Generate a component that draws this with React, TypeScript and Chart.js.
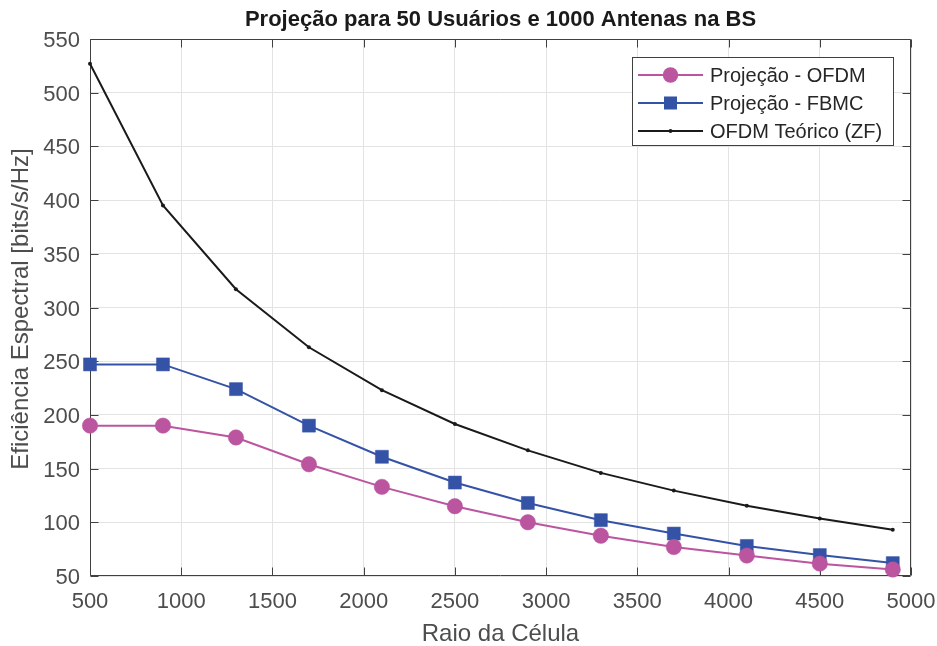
import React, { useEffect, useRef } from 'react';
import { Chart, registerables } from 'chart.js';

Chart.register(...registerables);

const raio = [500, 900, 1300, 1700, 2100, 2500, 2900, 3300, 3700, 4100, 4500, 4900];
const ofdm = [190, 190, 179, 154, 133, 115, 100, 87.5, 77, 69, 61.5, 56];
const fbmc = [247, 247, 224, 190, 161, 137, 118, 102, 89.5, 78, 69.5, 62];
const teorico = [527, 395, 317, 263, 223, 191.5, 167, 146, 129.5, 115.5, 103.5, 93];

const xTicks = [500, 1000, 1500, 2000, 2500, 3000, 3500, 4000, 4500, 5000];
const yTicks = [50, 100, 150, 200, 250, 300, 350, 400, 450, 500, 550];

const seriesLabels = ['Projeção - OFDM', 'Projeção - FBMC', 'OFDM Teórico (ZF)'];
const chartTitle = 'Projeção para 50 Usuários e 1000 Antenas na BS';
const xTitle = 'Raio da Célula';
const yTitle = 'Eficiência Espectral [bits/s/Hz]';

const PINK = '#bb55a0';
const BLUE = '#3452a6';
const BLACK = '#1a1a1a';
const FONT = '"Liberation Sans", Arial, Helvetica, sans-serif';

const decorPlugin = {
  id: 'matlabDecor',
  beforeDatasetsDraw(chart: any) {
    const { ctx, chartArea } = chart;
    const { left, right, top, bottom } = chartArea;
    const xs = chart.scales.x;
    const ys = chart.scales.y;
    ctx.save();
    ctx.strokeStyle = '#404040';
    ctx.lineWidth = 1;
    ctx.beginPath();
    const L = Math.round(left) + 0.5;
    const R = Math.round(right) - 0.5;
    const T = Math.round(top) + 0.5;
    const B = Math.round(bottom) - 0.5;
    ctx.rect(L, T, R - L, B - T);
    const tl = 8;
    xTicks.forEach((v) => {
      const px = Math.round(xs.getPixelForValue(v)) + 0.5;
      ctx.moveTo(px, B);
      ctx.lineTo(px, B - tl);
      ctx.moveTo(px, T);
      ctx.lineTo(px, T + tl);
    });
    yTicks.forEach((v) => {
      const py = Math.round(ys.getPixelForValue(v)) + 0.5;
      ctx.moveTo(L, py);
      ctx.lineTo(L + tl, py);
      ctx.moveTo(R, py);
      ctx.lineTo(R - tl, py);
    });
    ctx.stroke();
    ctx.restore();
  },
  afterDraw(chart: any) {
    const { ctx, chartArea } = chart;
    ctx.save();
    // title
    ctx.fillStyle = '#1a1a1a';
    ctx.font = `bold 22px ${FONT}`;
    ctx.textAlign = 'center';
    ctx.textBaseline = 'alphabetic';
    ctx.fillText(chartTitle, (chartArea.left + chartArea.right) / 2, 26);
    // x title
    ctx.fillStyle = '#4d4d4d';
    ctx.font = `24px ${FONT}`;
    ctx.fillText(xTitle, (chartArea.left + chartArea.right) / 2, 641);
    // y title
    ctx.save();
    ctx.translate(28, 309);
    ctx.rotate(-Math.PI / 2);
    ctx.fillText(yTitle, 0, 0);
    ctx.restore();

    // legend
    const bx = 632.5, by = 57.5, bw = 261, bh = 88;
    ctx.fillStyle = '#ffffff';
    ctx.fillRect(bx, by, bw, bh);
    ctx.strokeStyle = '#404040';
    ctx.lineWidth = 1;
    ctx.strokeRect(bx, by, bw, bh);
    const rows = [75, 103, 131];
    const colors = [PINK, BLUE, BLACK];
    chart.data.datasets.forEach((ds: any, i: number) => {
      const y = rows[i];
      ctx.strokeStyle = colors[i];
      ctx.lineWidth = 2;
      ctx.beginPath();
      ctx.moveTo(638, y);
      ctx.lineTo(703, y);
      ctx.stroke();
      ctx.fillStyle = colors[i];
      const mx = 670.5;
      if (i === 0) {
        ctx.beginPath();
        ctx.arc(mx, y, 7.7, 0, Math.PI * 2);
        ctx.fill();
      } else if (i === 1) {
        ctx.fillRect(mx - 6.5, y - 6.5, 13, 13);
      } else {
        ctx.beginPath();
        ctx.arc(mx, y, 2, 0, Math.PI * 2);
        ctx.fill();
      }
      ctx.fillStyle = '#262626';
      ctx.font = `20px ${FONT}`;
      ctx.textAlign = 'left';
      ctx.textBaseline = 'middle';
      ctx.fillText(ds.label, 710, y + 1);
    });
    ctx.restore();
  },
};

export default function App() {
  const canvasRef = useRef<HTMLCanvasElement | null>(null);

  useEffect(() => {
    if (!canvasRef.current) return;
    const chart = new Chart(canvasRef.current, {
      type: 'line',
      data: {
        datasets: [
          {
            label: seriesLabels[0],
            data: raio.map((x, i) => ({ x, y: ofdm[i] })),
            borderColor: PINK,
            backgroundColor: PINK,
            borderWidth: 2,
            pointStyle: 'circle',
            pointRadius: 7.7,
            pointBorderWidth: 0.5,
            pointBorderColor: PINK,
            pointBackgroundColor: PINK,
            clip: false,
            tension: 0,
          },
          {
            label: seriesLabels[1],
            data: raio.map((x, i) => ({ x, y: fbmc[i] })),
            borderColor: BLUE,
            backgroundColor: BLUE,
            borderWidth: 2,
            pointStyle: 'rect',
            pointRadius: 9.2,
            pointBorderWidth: 0.5,
            pointBorderColor: BLUE,
            pointBackgroundColor: BLUE,
            clip: false,
            tension: 0,
          },
          {
            label: seriesLabels[2],
            data: raio.map((x, i) => ({ x, y: teorico[i] })),
            borderColor: BLACK,
            backgroundColor: BLACK,
            borderWidth: 2,
            pointStyle: 'circle',
            pointRadius: 2,
            pointBorderWidth: 0,
            pointBackgroundColor: BLACK,
            clip: false,
            tension: 0,
          },
        ],
      },
      options: {
        animation: false,
        responsive: false,
        devicePixelRatio: 1,
        layout: { padding: { left: 0, right: 26, top: 39, bottom: 0 } },
        plugins: {
          legend: { display: false },
          title: { display: false },
          tooltip: { enabled: false },
        },
        scales: {
          x: {
            type: 'linear',
            min: 500,
            max: 5000,
            afterBuildTicks: (s: any) => {
              s.ticks = xTicks.map((v) => ({ value: v }));
            },
            afterFit: (s: any) => {
              s.height = 70;
              s.paddingLeft = 0;
              s.paddingRight = 0;
            },
            ticks: {
              autoSkip: false,
              maxRotation: 0,
              minRotation: 0,
              padding: 13,
              color: '#4d4d4d',
              font: { family: FONT, size: 22 },
              callback: (v: any) => String(v),
            },
            grid: { color: '#e3e3e3', lineWidth: 1, drawTicks: false },
            border: { display: false },
          },
          y: {
            type: 'linear',
            min: 50,
            max: 550,
            afterBuildTicks: (s: any) => {
              s.ticks = yTicks.map((v) => ({ value: v }));
            },
            afterFit: (s: any) => {
              s.width = 90;
              s.paddingTop = 0;
              s.paddingBottom = 0;
            },
            ticks: {
              autoSkip: false,
              padding: 10,
              labelOffset: 2,
              color: '#4d4d4d',
              font: { family: FONT, size: 22 },
              callback: (v: any) => String(v),
            },
            grid: { color: '#e3e3e3', lineWidth: 1, drawTicks: false },
            border: { display: false },
          },
        },
      },
      plugins: [decorPlugin],
    });
    return () => chart.destroy();
  }, []);

  return (
    <div style={{ position: 'fixed', left: 0, top: 0, width: 937, height: 646, background: '#fff' }}>
      <canvas ref={canvasRef} width={937} height={646} style={{ display: 'block' }} />
    </div>
  );
}
